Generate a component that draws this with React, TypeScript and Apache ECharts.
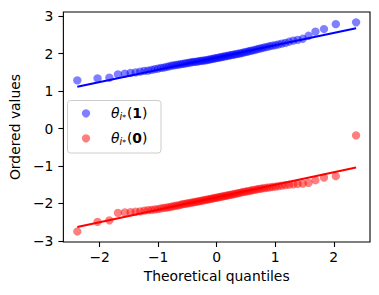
import React, { useEffect, useRef } from "react";
import * as echarts from "echarts";

// Theoretical quantiles (80 ordered normal quantiles)
const theoreticalQuantiles = [
  -2.381, -2.035, -1.833, -1.687, -1.569, -1.471, -1.384, -1.307, -1.237, -1.173,
  -1.113, -1.057, -1.004, -0.953, -0.905, -0.859, -0.815, -0.772, -0.731, -0.691,
  -0.652, -0.613, -0.576, -0.54, -0.504, -0.469, -0.434, -0.4, -0.367, -0.334,
  -0.301, -0.268, -0.236, -0.204, -0.172, -0.141, -0.109, -0.078, -0.047, -0.016,
  0.016, 0.047, 0.078, 0.109, 0.141, 0.172, 0.204, 0.236, 0.268, 0.301,
  0.334, 0.367, 0.4, 0.434, 0.469, 0.504, 0.54, 0.576, 0.613, 0.652,
  0.691, 0.731, 0.772, 0.815, 0.859, 0.905, 0.953, 1.004, 1.057, 1.113,
  1.173, 1.237, 1.307, 1.384, 1.471, 1.569, 1.687, 1.833, 2.035, 2.381,
];

// Ordered values, θ_{i*}(1)
const orderedOne = [
  1.29, 1.34, 1.36, 1.45, 1.47, 1.49, 1.5, 1.52, 1.54, 1.55,
  1.57, 1.59, 1.6, 1.62, 1.63, 1.65, 1.66, 1.68, 1.69, 1.7,
  1.71, 1.72, 1.73, 1.74, 1.75, 1.76, 1.77, 1.78, 1.785, 1.79,
  1.8, 1.81, 1.815, 1.82, 1.83, 1.84, 1.85, 1.86, 1.87, 1.88,
  1.89, 1.9, 1.91, 1.92, 1.93, 1.94, 1.95, 1.96, 1.97, 1.98,
  1.99, 2.0, 2.01, 2.02, 2.035, 2.05, 2.06, 2.075, 2.09, 2.1,
  2.12, 2.135, 2.15, 2.17, 2.18, 2.2, 2.215, 2.23, 2.25, 2.27,
  2.29, 2.32, 2.35, 2.37, 2.4, 2.48, 2.59, 2.66, 2.79, 2.84,
];

// Ordered values, θ_{i*}(0)
const orderedZero = [
  -2.75, -2.49, -2.45, -2.25, -2.24, -2.23, -2.22, -2.21, -2.19, -2.18,
  -2.17, -2.16, -2.15, -2.13, -2.12, -2.11, -2.1, -2.085, -2.07, -2.06,
  -2.05, -2.035, -2.02, -2.01, -2.0, -1.99, -1.98, -1.97, -1.96, -1.95,
  -1.94, -1.93, -1.92, -1.91, -1.9, -1.89, -1.88, -1.87, -1.86, -1.85,
  -1.84, -1.83, -1.82, -1.81, -1.8, -1.79, -1.78, -1.77, -1.76, -1.75,
  -1.735, -1.725, -1.715, -1.7, -1.69, -1.68, -1.67, -1.66, -1.645, -1.635,
  -1.62, -1.61, -1.6, -1.59, -1.58, -1.57, -1.56, -1.55, -1.535, -1.525,
  -1.51, -1.5, -1.49, -1.48, -1.47, -1.45, -1.38, -1.31, -1.27, -0.18,
];

// Least-squares fit lines: values at the first and last theoretical quantile
const fitOne = [1.12, 2.68];
const fitZero = [-2.63, -1.04];

const xTicks = [-2, -1, 0, 1, 2];
const yTicks = [-3, -2, -1, 0, 1, 2, 3];

const FONT = "DejaVu Sans";
const fmt = (v: number) => String(v).replace("-", "\u2212");

export default function App() {
  const ref = useRef<HTMLDivElement>(null);
  useEffect(() => {
    if (!ref.current) return;
    const chart = echarts.init(ref.current, undefined, { renderer: "svg" });
    const n = theoreticalQuantiles.length;
    const ptsOne = theoreticalQuantiles.map((x, i) => [x, orderedOne[i]]);
    const ptsZero = theoreticalQuantiles.map((x, i) => [x, orderedZero[i]]);
    const lineOne = [
      [theoreticalQuantiles[0], fitOne[0]],
      [theoreticalQuantiles[n - 1], fitOne[1]],
    ];
    const lineZero = [
      [theoreticalQuantiles[0], fitZero[0]],
      [theoreticalQuantiles[n - 1], fitZero[1]],
    ];
    const rich = {
      th: { fontFamily: FONT, fontStyle: "italic", fontSize: 13.9, lineHeight: 16, color: "#000" },
      sub: { fontFamily: FONT, fontStyle: "italic", fontSize: 9.7, lineHeight: 10, verticalAlign: "bottom", color: "#000" },
      st: { fontFamily: FONT, fontSize: 7.5, lineHeight: 10, verticalAlign: "bottom", color: "#000", padding: [0, 1, 0, 0] },
      p: { fontFamily: FONT, fontSize: 13.9, lineHeight: 16, color: "#000" },
      b: { fontFamily: FONT, fontWeight: "bold", fontSize: 13.9, lineHeight: 16, color: "#000" },
    };
    const legendText = (digit: string) => "{th|θ}{sub|i}{st|*}{p|(}{b|" + digit + "}{p|)}";
    chart.setOption({
      animation: false,
      grid: {
        left: 60,
        right: 9,
        top: 12,
        bottom: 53,
        show: true,
        borderColor: "#000",
        borderWidth: 1.1,
        backgroundColor: "transparent",
      },
      xAxis: {
        type: "value",
        min: -2.619,
        max: 2.619,
        name: "Theoretical quantiles",
        nameLocation: "middle",
        nameGap: 27,
        nameTextStyle: { fontFamily: FONT, fontSize: 13.9, color: "#000" },
        axisLine: { show: false, onZero: false },
        axisTick: { show: true, customValues: xTicks, length: 5, lineStyle: { color: "#000", width: 1.1 } },
        axisLabel: { customValues: xTicks, formatter: fmt, margin: 8, fontFamily: FONT, fontSize: 13.9, color: "#000" },
        splitLine: { show: false },
      },
      yAxis: {
        type: "value",
        min: -3.03,
        max: 3.115,
        name: "Ordered values",
        nameLocation: "middle",
        nameGap: 38,
        nameTextStyle: { fontFamily: FONT, fontSize: 13.9, color: "#000" },
        axisLine: { show: false, onZero: false },
        axisTick: { show: true, customValues: yTicks, length: 5, lineStyle: { color: "#000", width: 1.1 } },
        axisLabel: { customValues: yTicks, formatter: fmt, margin: 10, fontFamily: FONT, fontSize: 13.9, color: "#000" },
        splitLine: { show: false },
      },
      series: [
        {
          name: "θi*(1)",
          type: "scatter",
          data: ptsOne,
          symbol: "circle",
          symbolSize: 8.3,
          itemStyle: { color: "#0000ff", opacity: 0.5 },
          z: 2,
        },
        {
          name: "θi*(0)",
          type: "scatter",
          data: ptsZero,
          symbol: "circle",
          symbolSize: 8.3,
          itemStyle: { color: "#ff0000", opacity: 0.5 },
          z: 2,
        },
        {
          type: "line",
          data: lineOne,
          showSymbol: false,
          symbol: "none",
          lineStyle: { color: "#0000ff", width: 2 },
          z: 3,
        },
        {
          type: "line",
          data: lineZero,
          showSymbol: false,
          symbol: "none",
          lineStyle: { color: "#ff0000", width: 2 },
          z: 3,
        },
      ],
      graphic: [
        {
          type: "rect",
          z: 10,
          shape: { x: 67.5, y: 100.5, width: 93.5, height: 52.5, r: 3 },
          style: { fill: "rgba(255,255,255,0.8)", stroke: "#cccccc", lineWidth: 1 },
        },
        {
          type: "circle",
          z: 11,
          shape: { cx: 86, cy: 113.3, r: 4.15 },
          style: { fill: "rgba(0,0,255,0.5)" },
        },
        {
          type: "circle",
          z: 11,
          shape: { cx: 86, cy: 138.3, r: 4.15 },
          style: { fill: "rgba(255,0,0,0.5)" },
        },
        {
          type: "text",
          z: 11,
          x: 111,
          y: 113,
          style: { text: legendText("1"), rich, verticalAlign: "middle", align: "left" },
        },
        {
          type: "text",
          z: 11,
          x: 111,
          y: 138,
          style: { text: legendText("0"), rich, verticalAlign: "middle", align: "left" },
        },
      ],
    });
    return () => chart.dispose();
  }, []);
  return (
    <div
      ref={ref}
      style={{ position: "absolute", left: 0, top: 0, width: 379, height: 295 }}
    />
  );
}
